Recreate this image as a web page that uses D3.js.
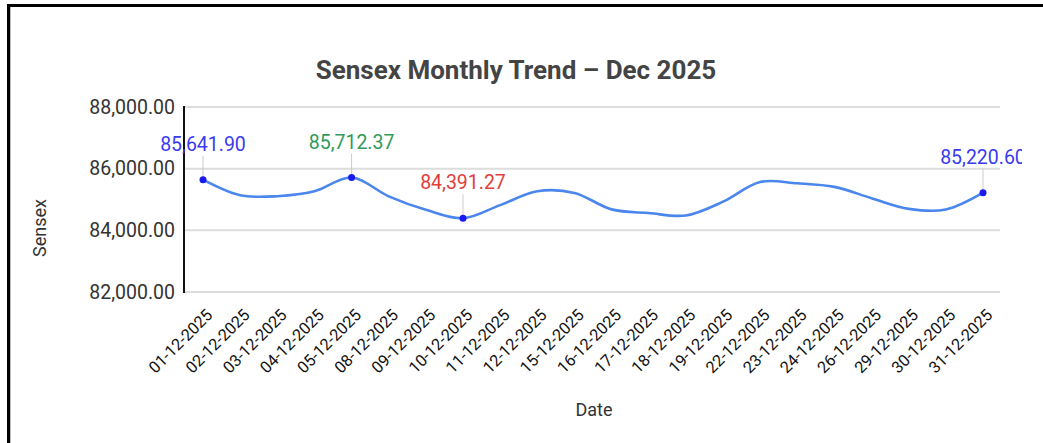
<!DOCTYPE html>
<html lang="en">
<head>
<meta charset="utf-8">
<title>Sensex Monthly Trend</title>
<script src="https://cdnjs.cloudflare.com/ajax/libs/d3/7.8.5/d3.min.js"></script>
<style>
  html, body { margin: 0; padding: 0; background: #fff; }
  svg { display: block; font-family: Roboto, "Noto Sans", Arial, sans-serif; }
</style>
</head>
<body>
<div id="chart"></div>
<script>
const dates = ['01-12-2025','02-12-2025','03-12-2025','04-12-2025','05-12-2025','08-12-2025',
  '09-12-2025','10-12-2025','11-12-2025','12-12-2025','15-12-2025','16-12-2025','17-12-2025',
  '18-12-2025','19-12-2025','22-12-2025','23-12-2025','24-12-2025','26-12-2025','29-12-2025',
  '30-12-2025','31-12-2025'];
const sensex = [85641.90, 85138.27, 85106.81, 85265.32, 85712.37, 85102.69, 84666.28, 84391.27,
  84818.13, 85267.66, 85213.36, 84679.86, 84559.65, 84481.81, 84929.36, 85567.48, 85524.84,
  85408.70, 85041.45, 84695.54, 84675.08, 85220.60];
const yTicks = [82000, 84000, 86000, 88000];
const labelDates = ['01-12-2025', '05-12-2025', '10-12-2025', '31-12-2025'];
const labelColors = ['#3b3bf0', '#2f9a5c', '#e2403a', '#3b3bf0'];

const width = 1043, height = 443;
const svg = d3.select('#chart').append('svg')
  .attr('width', width).attr('height', height);

// frame
svg.append('rect').attr('x', 0).attr('y', 0).attr('width', width).attr('height', height).attr('fill', '#fff');
svg.append('line').attr('x1', 7).attr('x2', width).attr('y1', 5.5).attr('y2', 5.5)
  .attr('stroke', '#000').attr('stroke-width', 3);
svg.append('line').attr('x1', 8.5).attr('x2', 8.5).attr('y1', 4).attr('y2', height)
  .attr('stroke', '#000').attr('stroke-width', 3);
svg.append('line').attr('x1', 10.5).attr('x2', 10.5).attr('y1', 7).attr('y2', height)
  .attr('stroke', '#bbb').attr('stroke-width', 1);

const x = d3.scalePoint().domain(dates).range([203, 983]);
const y = d3.scaleLinear().domain([82000, 88000]).range([292, 107]);

svg.append('text')
  .attr('x', 516).attr('y', 79)
  .attr('text-anchor', 'middle')
  .attr('font-size', 26).attr('font-weight', 'bold')
  .attr('fill', '#444')
  .text('Sensex Monthly Trend \u2013 Dec 2025');

// grid
svg.append('g').selectAll('line').data(yTicks).join('line')
  .attr('x1', 184).attr('x2', 1000)
  .attr('y1', d => y(d)).attr('y2', d => y(d))
  .attr('stroke', '#ddd').attr('stroke-width', 2);

const yAxis = svg.append('g')
  .attr('transform', 'translate(184,0)')
  .call(d3.axisLeft(y).tickValues(yTicks).tickSize(0).tickPadding(9)
    .tickFormat(d3.format(',.2f')));
yAxis.select('.domain').remove();
yAxis.selectAll('text').attr('font-size', 19.5).attr('fill', '#333')
  .attr('font-family', 'Roboto, sans-serif');

svg.append('line').attr('x1', 184).attr('x2', 184).attr('y1', 106).attr('y2', 293)
  .attr('stroke', '#111').attr('stroke-width', 2);

const xAxis = svg.append('g')
  .attr('transform', 'translate(0,292)')
  .call(d3.axisBottom(x).tickSize(0).tickPadding(0));
xAxis.select('.domain').remove();
xAxis.selectAll('text')
  .attr('font-size', 16.3).attr('fill', '#111')
  .attr('font-family', 'Roboto, sans-serif')
  .attr('text-anchor', 'end')
  .attr('transform', 'translate(6,20) rotate(-45)')
  .attr('dy', '0.35em');

// axis titles
svg.append('text')
  .attr('transform', 'translate(46,228) rotate(-90)')
  .attr('text-anchor', 'middle').attr('font-size', 18).attr('fill', '#333')
  .text('Sensex');
svg.append('text')
  .attr('x', 594).attr('y', 416)
  .attr('text-anchor', 'middle').attr('font-size', 18).attr('fill', '#333')
  .text('Date');

// line
const line = d3.line()
  .x((d, i) => x(dates[i]))
  .y(d => y(d))
  .curve(d3.curveCatmullRom.alpha(0.5));
svg.append('path')
  .datum(sensex)
  .attr('d', line)
  .attr('fill', 'none')
  .attr('stroke', '#4a86ec')
  .attr('stroke-width', 2.6);

// data labels
svg.append('clipPath').attr('id', 'clip')
  .append('rect').attr('x', 0).attr('y', 0).attr('width', 1022).attr('height', height);

const labels = svg.append('g').attr('clip-path', 'url(#clip)');
labelDates.forEach((dt, k) => {
  const i = dates.indexOf(dt);
  const px = x(dt), py = y(sensex[i]);
  labels.append('line')
    .attr('x1', px).attr('x2', px).attr('y1', py - 24).attr('y2', py)
    .attr('stroke', '#ccc').attr('stroke-width', 1);
  labels.append('circle')
    .attr('cx', px).attr('cy', py).attr('r', 3.5)
    .attr('fill', '#1a1af0');
  labels.append('text')
    .attr('x', px).attr('y', py - 29)
    .attr('text-anchor', 'middle')
    .attr('font-size', 19.5)
    .attr('fill', labelColors[k])
    .text(d3.format(',.2f')(sensex[i]));
});
</script>
</body>
</html>
